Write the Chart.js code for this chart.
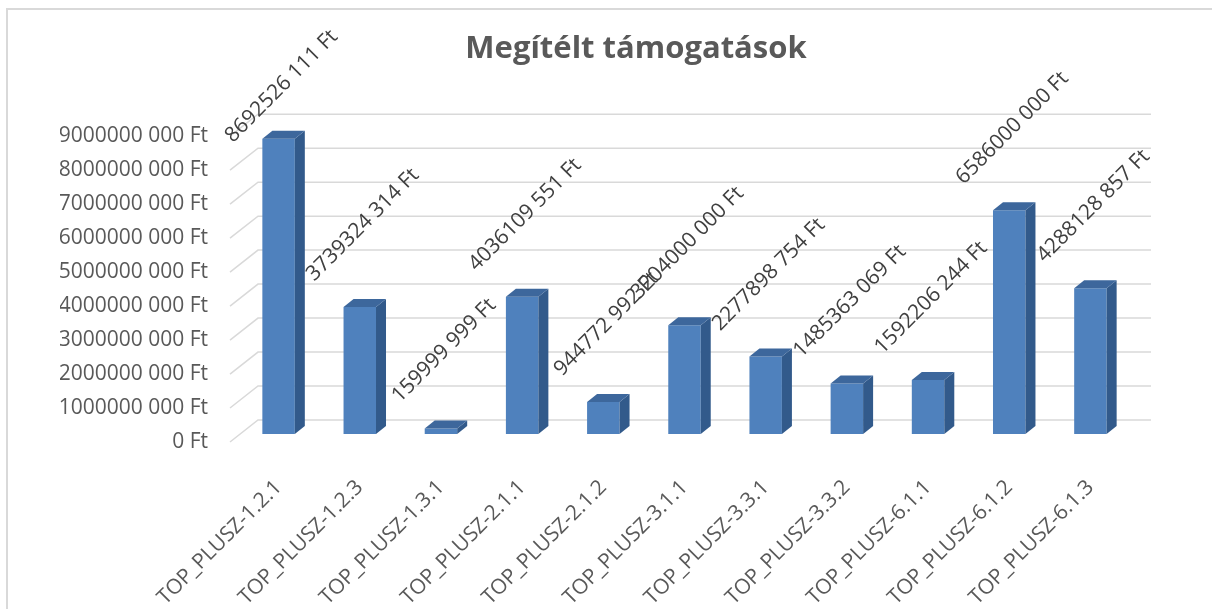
<!DOCTYPE html>
<html>
<head>
<meta charset="utf-8">
<script src="https://cdn.jsdelivr.net/npm/chart.js@4/dist/chart.umd.min.js"></script>
<style>
  html, body { margin: 0; padding: 0; background: #fff; }
  canvas { display: block; }
</style>
</head>
<body>
<canvas id="supportChart" width="1212" height="609"></canvas>
<script>
// chart data
const categories = ['TOP_PLUSZ-1.2.1', 'TOP_PLUSZ-1.2.3', 'TOP_PLUSZ-1.3.1', 'TOP_PLUSZ-2.1.1', 'TOP_PLUSZ-2.1.2',
    'TOP_PLUSZ-3.1.1', 'TOP_PLUSZ-3.3.1', 'TOP_PLUSZ-3.3.2', 'TOP_PLUSZ-6.1.1', 'TOP_PLUSZ-6.1.2', 'TOP_PLUSZ-6.1.3'];
const awarded = [8692526111, 3739324314, 159999999, 4036109551, 944772992,
    3204000000, 2277898754, 1485363069, 1592206244, 6586000000, 4288128857];
const yTickValues = [0, 1000000000, 2000000000, 3000000000, 4000000000, 5000000000,
    6000000000, 7000000000, 8000000000, 9000000000];
const chartTitle = 'Megítélt támogatások';

const FONT = "'Open Sans', 'Noto Sans', sans-serif";
const TEXT = '#595959';
const GRID = '#d9d9d9';
const DEPTH_X = 10, DEPTH_Y = 8;     // bar depth
const WALL_X = 20, WALL_Y = 14;      // back wall offset from bar plane
const FLOOR_X = 8, FLOOR_Y = 8;      // front edge offset

// Excel style "# ### Ft"
function formatFt(v) {
    if (v < 1000) return v + ' Ft';
    const head = Math.floor(v / 1000);
    const tail = String(v % 1000).padStart(3, '0');
    return head + ' ' + tail + ' Ft';
}

const threeD = {
    id: 'threeD',
    beforeDraw(chart) {
        const ctx = chart.ctx;
        ctx.save();
        ctx.fillStyle = GRID;
        ctx.fillRect(6, 8, 2, chart.height - 8);
        ctx.fillRect(6, 8, chart.width - 6, 2);
        ctx.restore();
    },
    beforeDatasetsDraw(chart) {
        const ctx = chart.ctx;
        const area = chart.chartArea;
        const y = chart.scales.y;
        ctx.save();
        ctx.strokeStyle = GRID;
        ctx.lineWidth = 1.5;
        yTickValues.forEach(v => {
            const py = y.getPixelForValue(v);
            ctx.beginPath();
            ctx.moveTo(area.left - FLOOR_X, py + FLOOR_Y);
            ctx.lineTo(area.left + WALL_X, py - WALL_Y);
            ctx.lineTo(area.right + WALL_X, py - WALL_Y);
            ctx.stroke();
        });
        ctx.restore();
    },
    afterDatasetsDraw(chart) {
        const ctx = chart.ctx;
        const meta = chart.getDatasetMeta(0);
        ctx.save();
        meta.data.forEach((bar, i) => {
            const p = bar.getProps(['x', 'y', 'base', 'width'], true);
            const l = p.x - p.width / 2, r = p.x + p.width / 2;
            // side face
            ctx.fillStyle = '#325a8b';
            ctx.beginPath();
            ctx.moveTo(r, p.y);
            ctx.lineTo(r + DEPTH_X, p.y - DEPTH_Y);
            ctx.lineTo(r + DEPTH_X, p.base - DEPTH_Y);
            ctx.lineTo(r, p.base);
            ctx.closePath();
            ctx.fill();
            // top face
            ctx.fillStyle = '#3d679c';
            ctx.beginPath();
            ctx.moveTo(l, p.y);
            ctx.lineTo(l + DEPTH_X, p.y - DEPTH_Y);
            ctx.lineTo(r + DEPTH_X, p.y - DEPTH_Y);
            ctx.lineTo(r, p.y);
            ctx.closePath();
            ctx.fill();

            // value label, rotated
            const text = formatFt(awarded[i]);
            ctx.font = '21px ' + FONT;
            const w = ctx.measureText(text).width;
            const half = (w + 21) * Math.SQRT1_2 / 2;
            let cy = p.y - DEPTH_Y - 14 - half;
            if (cy - half < 26) cy = 26 + half;
            ctx.translate(p.x + 3, cy);
            ctx.rotate(-Math.PI / 4);
            ctx.fillStyle = '#404040';
            ctx.textAlign = 'center';
            ctx.textBaseline = 'middle';
            ctx.fillText(text, 0, 0);
            ctx.setTransform(1, 0, 0, 1, 0, 0);
        });
        ctx.restore();
    }
};

new Chart(document.getElementById('supportChart'), {
    type: 'bar',
    data: {
        labels: categories,
        datasets: [{
            label: chartTitle,
            data: awarded,
            backgroundColor: '#4f81bd',
            borderWidth: 0,
            barPercentage: 0.4,
            categoryPercentage: 1
        }]
    },
    options: {
        responsive: false,
        animation: false,
        layout: { padding: { left: 60, right: 0, top: 0, bottom: 0 } },
        plugins: {
            legend: { display: false },
            tooltip: { enabled: false },
            title: {
                display: true,
                text: chartTitle,
                color: TEXT,
                font: { family: FONT, size: 31, weight: 'bold' },
                padding: { top: 31, bottom: 60 }
            }
        },
        scales: {
            x: {
                grid: { display: false },
                border: { display: false },
                ticks: {
                    color: TEXT,
                    font: { family: FONT, size: 21 },
                    minRotation: 45,
                    maxRotation: 45,
                    autoSkip: false,
                    padding: 33
                },
                afterFit(scale) { scale.height = 175; }
            },
            y: {
                min: 0,
                max: 9000000000,
                grid: { display: false },
                border: { display: false },
                ticks: {
                    stepSize: 1000000000,
                    color: TEXT,
                    font: { family: FONT, size: 21 },
                    padding: 22,
                    labelOffset: 8,
                    callback: v => formatFt(v)
                },
                afterFit(scale) { scale.width = 178; }
            },
            yRight: {
                position: 'right',
                grid: { display: false },
                border: { display: false },
                ticks: { display: false },
                afterFit(scale) { scale.width = 81; }
            }
        }
    },
    plugins: [threeD]
});
</script>
</body>
</html>
